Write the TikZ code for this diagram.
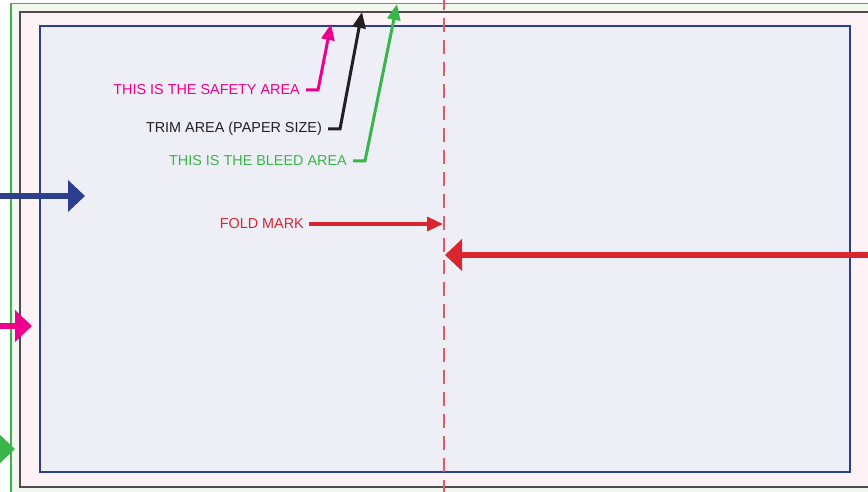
\documentclass[tikz,border=0pt]{standalone}
\usepackage{fontspec}
\setmainfont{Liberation Sans}
\usetikzlibrary{arrows.meta}
\definecolor{safepink}{HTML}{EC008C}
\definecolor{trimblack}{HTML}{231F20}
\definecolor{bleedgreen}{HTML}{3AB54A}
\definecolor{foldred}{HTML}{D7262E}
\definecolor{safeblue}{HTML}{2B3F8E}
\definecolor{safefill}{HTML}{EEEEF7}
\definecolor{trimfill}{HTML}{FDF3F6}
\definecolor{bleedfill}{HTML}{F2F7F0}
\tikzset{
    every node/.style={font=\fontsize{14.4}{16}\selectfont, inner sep=0pt},
    lbl/.style={anchor=east},
    callout/.style={line width=3pt, -{Triangle[length=16pt,width=13pt]}},
    bigarrow/.style={line width=6pt, -{Triangle[length=17pt,width=31pt]}},
    foldarrow/.style={line width=3.2pt, -{Triangle[length=16pt,width=14pt]}},
    foldline/.style={foldred!75, line width=2pt, dash pattern=on 14pt off 8pt}
}
\begin{document}
\begin{tikzpicture}[x=1pt,y=-1pt]
\useasboundingbox (0,0) rectangle (868,492);
\clip (0,0) rectangle (868,492);

% areas
\fill[white] (0,0) rectangle (868,492);
\filldraw[fill=bleedfill, draw=bleedgreen, line width=1.4pt] (11,3.5) rectangle (880,500);
\filldraw[fill=trimfill, draw=trimblack!80, line width=2pt] (20,12) rectangle (880,487);
\filldraw[fill=safefill, draw=safeblue, line width=1.5pt] (40,26) rectangle (850,472);

% fold
\draw[foldline] (444,-4) -- (444,496);

% tips
\coordinate (safetip) at (331,24);
\coordinate (trimtip) at (362,12);
\coordinate (bleedtip) at (397,4);
\coordinate (foldtip) at (443,224);

% labels
\node[lbl, text=safepink] at (300,90) (safe) {THIS IS THE SAFETY AREA};
\node[lbl, text=trimblack] at (322,129) (trim) {TRIM AREA (PAPER SIZE)};
\node[lbl, text=bleedgreen] at (347,161) (bleed) {THIS IS THE BLEED AREA};
\node[lbl, text=foldred] at (304,224) (fold) {FOLD MARK};

\draw[callout, safepink] ([xshift=6pt]safe.east) -- ++(12,0) -- (safetip);
\draw[callout, trimblack] ([xshift=6pt]trim.east) -- ++(12,0) -- (trimtip);
\draw[callout, bleedgreen] ([xshift=6pt]bleed.east) -- ++(12,0) -- (bleedtip);
\draw[foldarrow, foldred] ([xshift=5pt]fold.east) -- (foldtip);

% side arrows
\coordinate (bluestart) at (-2,196);
\coordinate (bluetip) at (85,196);
\coordinate (pinkstart) at (-2,326);
\coordinate (pinktip) at (32,326);
\coordinate (greenstart) at (-5,449);
\coordinate (greentip) at (15,449);
\coordinate (redstart) at (872,255);
\coordinate (redtip) at (445,255);
\draw[bigarrow, safeblue] (bluestart) -- (bluetip);
\draw[bigarrow, safepink] (pinkstart) -- (pinktip);
\draw[bigarrow, bleedgreen] (greenstart) -- (greentip);
\draw[bigarrow, foldred] (redstart) -- (redtip);
\end{tikzpicture}
\end{document}
